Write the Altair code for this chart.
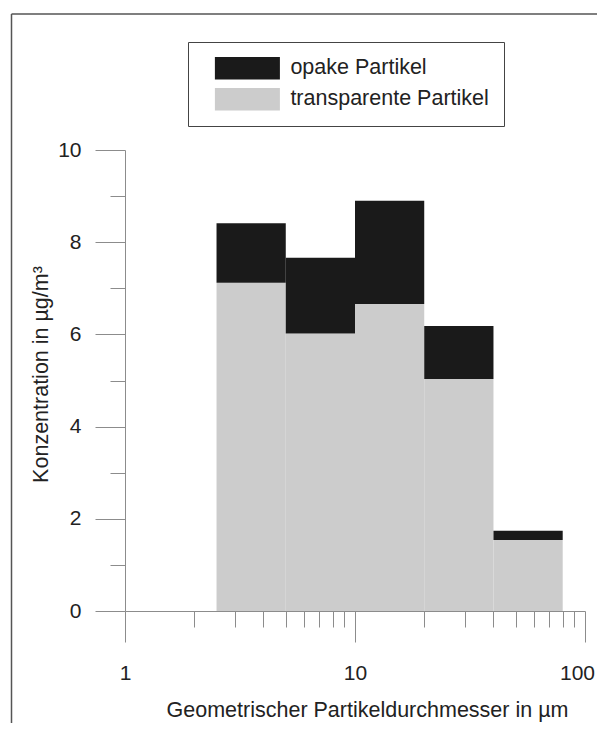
import altair as alt
import pandas as pd

# ---- data ----
bin_lo = [2.5, 5, 10, 20, 40]          # lower edge of size class (µm)
bin_hi = [5, 10, 20, 40, 80]           # upper edge of size class (µm)
transparent = [7.12, 6.02, 6.66, 5.03, 1.54]   # transparent particles (µg/m³)
total = [8.41, 7.66, 8.90, 6.18, 1.74]          # transparent + opaque (µg/m³)
categories = ["opake Partikel", "transparente Partikel"]
colors = ["#1a1a1a", "#cccccc"]
y_major = [0, 2, 4, 6, 8, 10]
y_minor = [1, 3, 5, 7, 9]
x_major = [1, 10, 100]
x_minor = [2, 3, 4, 5, 6, 7, 8, 9, 20, 30, 40, 50, 60, 70, 80, 90]

FONT = "Liberation Sans"
AXC = "#8c8c8c"

rows = []
for lo, hi, t, tot in zip(bin_lo, bin_hi, transparent, total):
    rows.append(dict(cat=categories[1], lo=lo, hi=hi, y0=0, y1=t))
    rows.append(dict(cat=categories[0], lo=lo, hi=hi, y0=t, y1=tot))
df = pd.DataFrame(rows)

xs = alt.Scale(type="log", domain=[1, 100], nice=False)
ys = alt.Scale(domain=[0, 10], nice=False, zero=False)

common = dict(domainColor=AXC, tickColor=AXC, domainWidth=1, tickWidth=1, grid=False,
              labelFont=FONT, labelFontSize=21, labelColor="#222",
              titleFont=FONT, titleFontSize=21.5, titleFontWeight="normal", titleColor="#222")

main = alt.Chart(df).mark_rect().encode(
    x=alt.X("lo:Q", scale=xs, axis=alt.Axis(
        orient="bottom", values=x_major, format="d", tickSize=31, labelPadding=20,
        labelFlush=False, labelOverlap=False, labelBound=False,
        labelOffset={"condition": {"test": "datum.value >= 100", "value": -8}, "value": 0},
        title="Geometrischer Partikeldurchmesser in µm",
        titleX=242, titleY=105, titleBaseline="alphabetic", titleAlign="center", **common)),
    x2="hi:Q",
    y=alt.Y("y1:Q", scale=ys, axis=alt.Axis(
        orient="left", values=y_major, format="d", tickSize=30, labelPadding=14,
        labelFlush=False, labelOverlap=False,
        title="Konzentration in µg/m³", titleAngle=-90,
        titleX=-78, titleY=224, titleBaseline="alphabetic", titleAlign="center", **common)),
    y2="y0:Q",
    color=alt.Color("cat:N", scale=alt.Scale(domain=categories, range=colors),
                    legend=alt.Legend(
                        title=None, orient="none", legendX=63, legendY=-108,
                        direction="vertical",
                        strokeColor="#444", fillColor="white", padding=14.7,
                        symbolType="M-2.876,-1H2.876V1H-2.876Z", symbolSize=511,
                        symbolStrokeWidth=0, symbolOpacity=1, symbolOffset=33.2,
                        labelFont=FONT, labelFontSize=21.5, labelColor="#222",
                        labelOffset=31.5, labelLimit=0, rowPadding=8)),
)

minor = alt.Chart(df).mark_rect(opacity=0).encode(
    x=alt.X("lo:Q", scale=xs, axis=alt.Axis(
        orient="bottom", values=x_minor, tickSize=16, labels=False, domain=False,
        title="", tickColor=AXC, tickWidth=1, grid=False)),
    x2="hi:Q",
    y=alt.Y("y1:Q", scale=ys, axis=alt.Axis(
        orient="left", values=y_minor, tickSize=15, labels=False, domain=False,
        title="", tickColor=AXC, tickWidth=1, grid=False)),
    y2="y0:Q",
)

one = pd.DataFrame({"a": [0]})
frame_left = alt.Chart(one).mark_rule(color="#555", strokeWidth=1.5).encode(
    x=alt.value(-113.5), y=alt.value(-136), y2=alt.value(700))
frame_top = alt.Chart(one).mark_rule(color="#555", strokeWidth=1.5).encode(
    x=alt.value(-113.5), x2=alt.value(600), y=alt.value(-136))

chart = alt.layer(main, minor, frame_left, frame_top).resolve_axis(
    x="independent", y="independent"
).properties(
    width=460, height=461,
    autosize=alt.AutoSizeParams(type="none"),
    padding={"left": 117, "top": 142, "right": 12, "bottom": 112},
    background="white",
).configure_view(strokeWidth=0)

chart.save("out.html", embed_options={"renderer": "svg", "actions": False})
